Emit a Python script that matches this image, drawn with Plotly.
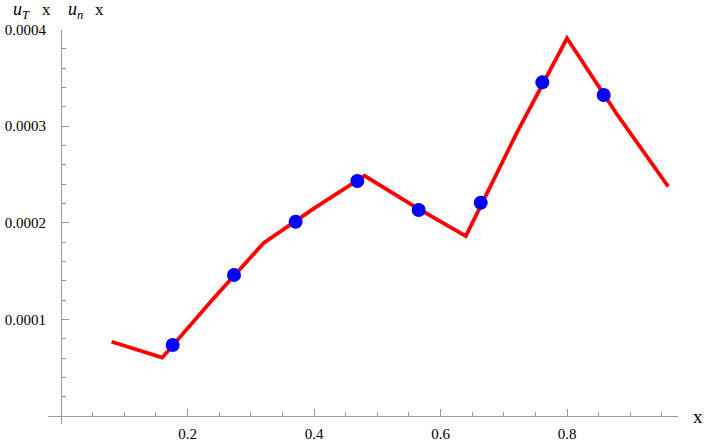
import plotly.graph_objects as go

# Red line (piecewise linear)
line_x = [0.08, 0.16, 0.24, 0.32, 0.40, 0.48, 0.56, 0.64, 0.72, 0.80, 0.88, 0.96]
line_y = [7.69e-5, 6.04e-5, 1.208e-4, 1.788e-4, 2.149e-4, 2.487e-4, 2.164e-4,
          1.863e-4, 2.922e-4, 3.91e-4, 3.114e-4, 2.376e-4]

# Blue points
pt_x = [0.1766, 0.2735, 0.371, 0.4685, 0.5655, 0.6636, 0.761, 0.858]
pt_y = [7.35e-5, 1.46e-4, 2.011e-4, 2.433e-4, 2.133e-4, 2.208e-4, 3.454e-4, 3.323e-4]

x_ticks = [0.2, 0.4, 0.6, 0.8]
x_tick_labels = ["0.2", "0.4", "0.6", "0.8"]
y_ticks = [0.0001, 0.0002, 0.0003, 0.0004]
y_tick_labels = ["0.0001", "0.0002", "0.0003", "0.0004"]

W, H = 705, 442
# pixel geometry
x0_px, px_per_x = 61.0, 632.5
y0_px, px_per_y = 416.0, 966000.0
xr = [-0.0206, 0.975]
yr = [-8.3e-6, 0.0004]

def xpx(v):
    return x0_px + v * px_per_x

def ypx(v):
    return y0_px - v * px_per_y

xdom = [xpx(xr[0]) / W, xpx(xr[1]) / W]
ydom = [1 - ypx(yr[0]) / H, 1 - ypx(yr[1]) / H]

axis_col = "#9a9a9a"
font_fam = '"Liberation Serif", "Times New Roman", serif'

fig = go.Figure()
fig.add_trace(go.Scatter(x=line_x, y=line_y, mode="lines",
                         line=dict(color="#ff0000", width=3.8), hoverinfo="skip"))
fig.add_trace(go.Scatter(x=pt_x, y=pt_y, mode="markers",
                         marker=dict(color="#0000ff", size=14, line=dict(width=0)),
                         hoverinfo="skip"))

def ann(xp, yp, text, size, anchor="left"):
    return dict(xref="paper", yref="paper", x=xp / W, y=1 - yp / H, xanchor=anchor,
                yanchor="middle", text=text, showarrow=False,
                font=dict(family=font_fam, size=size, color="black"))

fig.update_layout(
    width=W, height=H,
    margin=dict(l=0, r=0, t=0, b=0, autoexpand=False),
    paper_bgcolor="white", plot_bgcolor="white",
    showlegend=False,
    font=dict(family=font_fam, size=15, color="black"),
    xaxis=dict(
        domain=xdom, range=xr, anchor="free", position=1 - y0_px / H,
        showgrid=False, zeroline=False, showline=True, linecolor=axis_col, linewidth=1,
        tickmode="array", tickvals=x_ticks, ticktext=x_tick_labels,
        ticks="inside", ticklen=7, tickcolor=axis_col, tickwidth=1,
        minor=dict(dtick=0.05, tick0=0, ticks="inside", ticklen=4, tickcolor=axis_col, tickwidth=1),
        tickfont=dict(family=font_fam, size=15, color="black"),
        ticklabelstandoff=4, automargin=False,
    ),
    yaxis=dict(
        domain=ydom, range=yr, anchor="free", position=x0_px / W,
        showgrid=False, zeroline=False, showline=True, linecolor=axis_col, linewidth=1,
        tickmode="array", tickvals=y_ticks, ticktext=y_tick_labels,
        ticks="inside", ticklen=7, tickcolor=axis_col, tickwidth=1,
        minor=dict(dtick=0.00002, tick0=0, ticks="inside", ticklen=4, tickcolor=axis_col, tickwidth=1),
        tickfont=dict(family=font_fam, size=15, color="black"),
        ticklabelstandoff=12, automargin=False,
    ),
    annotations=[
        ann(698, 416, "x", 19, "center"),
        ann(11, 10, "<i>u</i><sub><i>T</i></sub>", 18),
        ann(46, 9, "x", 17, "center"),
        ann(66, 10, "<i>u</i><sub><i>n</i></sub>", 18),
        ann(99, 9, "x", 17, "center"),
    ],
)

fig.write_html("out.html", config={"displayModeBar": False},
               post_script="document.body.style.margin='0px'; document.body.style.padding='0px';")
